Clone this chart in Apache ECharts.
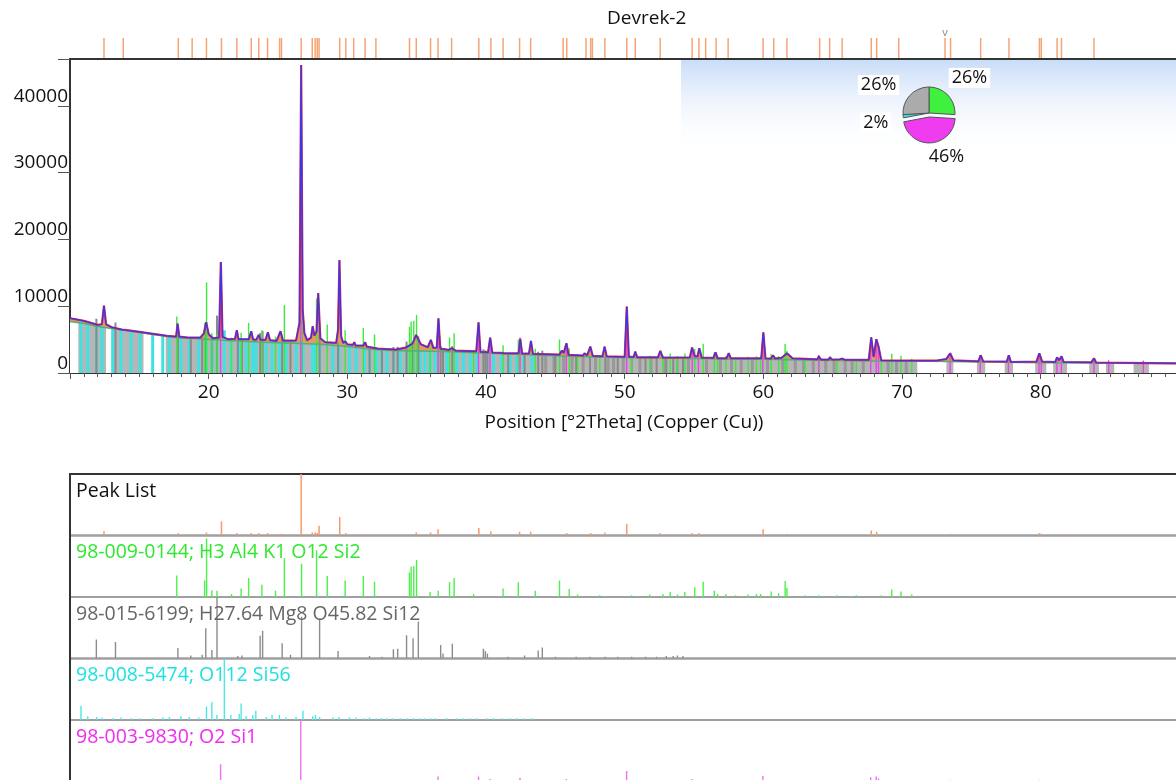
<!DOCTYPE html>
<html>
<head>
<meta charset="utf-8">
<title>Devrek-2</title>
<script src="https://cdn.jsdelivr.net/npm/echarts@6/dist/echarts.min.js"></script>
<style>
  html, body { margin: 0; padding: 0; background: #fff; }
  #chart { width: 1176px; height: 780px; }
</style>
</head>
<body>
<div id="chart"></div>
<script>
// x range in degrees 2Theta
var xMin = 10, xMax = 89.9;
var yTicks = [0, 10000, 20000, 30000, 40000];
var xTicks = [20, 30, 40, 50, 60, 70, 80];

// background (deg, counts)
var bgPoints = [[10,7700],[11,7400],[12,6950],[13,6650],[14,6350],[15,6050],[16,5750],[17,5450],[18,5250],
  [19,5150],[20,5000],[22,4800],[24,4600],[26,4450],[28,4300],[30,3950],[31.5,3600],[33,3350],[35,3300],
  [37,3200],[40,2950],[42,2850],[45,2600],[48,2400],[51,2250],[54,2200],[57,2100],[60,2050],[64,1900],
  [68,1800],[72,1750],[76,1650],[80,1550],[85,1480],[90,1400]];

var obsPoints = [[10,8200],[11,7800],[12,7200],[12.3,7300],[12.45,10100],[12.6,7300],[13,6850],[13.75,6500],
  [13.84,6750],[13.95,6450],[15,6150],[16,5850],[17,5550],[17.65,5450],[17.76,7400],[17.88,5450],[18.5,5300],
  [19.4,5300],[19.65,5900],[19.82,7600],[20,5800],[20.3,5200],[20.75,5300],[20.88,16600],[21,5400],[21.4,5050],
  [21.9,5100],[22.03,6400],[22.15,5050],[22.9,5050],[23.07,6250],[23.2,5000],[23.45,5000],[23.6,5700],
  [23.75,4950],[24.1,4950],[24.27,6100],[24.42,4900],[24.9,4800],[25.18,6250],[25.35,4850],[26.3,4850],
  [26.55,7500],[26.67,46100],[26.78,9500],[26.9,6000],[27.1,4900],[27.38,5300],[27.5,7000],[27.62,5600],
  [27.78,6200],[27.9,11950],[28.05,5200],[28.4,4600],[29.2,4500],[29.33,6500],[29.43,16900],[29.55,5500],
  [29.7,4500],[29.85,4750],[30,4300],[30.4,4200],[30.5,4600],[30.6,4100],[31.15,4100],[31.28,4600],
  [31.4,3950],[31.9,3750],[32.03,3900],[32.2,3650],[33.5,3500],[34.2,3800],[34.7,4400],[34.96,5700],
  [35.3,4300],[35.8,3850],[36.02,4950],[36.2,3750],[36.45,3800],[36.57,8200],[36.7,3650],[37.3,3450],
  [37.54,3700],[37.8,3350],[39.3,3250],[39.46,7600],[39.6,3150],[40.15,3100],[40.3,5300],[40.45,3050],
  [41.1,3000],[41.2,3200],[41.3,2950],[42.35,2950],[42.47,5100],[42.6,2900],[43.1,2900],[43.24,4800],
  [43.38,2850],[45.3,2750],[45.47,3350],[45.6,3000],[45.8,4450],[45.95,2700],[47,2600],[47.1,2950],
  [47.3,2650],[47.52,3950],[47.7,2550],[48.4,2500],[48.55,3950],[48.7,2500],[50,2400],[50.15,9950],
  [50.3,2400],[50.65,2400],[50.76,3200],[50.9,2350],[52.4,2350],[52.57,3300],[52.75,2300],[54.7,2350],
  [54.86,3800],[55.05,2500],[55.25,2500],[55.38,3700],[55.55,2300],[56.4,2250],[56.55,3100],[56.7,2200],
  [57.35,2200],[57.5,2950],[57.65,2200],[59.85,2200],[60,6100],[60.15,2200],[60.55,2150],[60.7,2650],
  [60.85,2150],[61.3,2250],[61.7,2950],[62.1,2200],[63.9,2050],[64,2500],[64.15,2000],[64.7,2000],
  [64.8,2350],[64.95,2000],[65.5,2050],[65.7,2150],[65.9,1950],[67.6,1950],[67.78,5350],[67.95,2400],
  [68.15,5050],[68.3,4000],[68.5,1900],[70,1850],[72.5,1850],[73.2,2100],[73.47,2950],[73.7,1900],
  [75.5,1750],[75.67,2650],[75.85,1750],[77.55,1700],[77.7,2650],[77.85,1650],[79.7,1700],[79.9,2950],
  [80.1,1700],[81.05,1650],[81.18,2350],[81.33,1900],[81.5,2500],[81.65,1650],[83.65,1600],[83.84,2200],
  [84,1550],[90,1450]];

// peak list (deg, relative height)
var peakPos = [12.45,13.84,17.81,18.81,19.84,20.92,22.03,23.07,23.61,24.25,25.12,25.25,26.67,27.47,27.68,27.83,
  27.96,29.45,29.89,30.46,31.28,32.06,34.48,34.97,36.0,36.54,37.52,39.48,40.35,41.23,42.42,43.22,45.56,45.82,
  47.21,47.55,47.67,48.57,50.15,50.76,52.56,54.86,55.35,55.84,56.59,57.46,59.98,60.75,61.7,64.06,64.78,65.68,
  67.78,68.17,69.76,73.1,73.5,75.67,77.71,79.91,80.04,81.18,81.5,83.84];
var peakRel = [0.07,0.02,0.04,0.02,0.05,0.23,0.04,0.04,0.04,0.04,0.02,0.03,1,0.05,0.05,0.04,
  0.16,0.30,0.04,0.02,0.02,0.02,0.02,0.05,0.05,0.10,0.02,0.12,0.07,0.02,0.06,0.06,0.02,0.04,
  0.02,0.04,0.02,0.05,0.19,0.02,0.04,0.04,0.04,0.01,0.01,0.02,0.10,0.01,0.03,0.02,0.01,0.01,
  0.08,0.06,0.01,0.01,0.03,0.02,0.01,0.04,0.03,0.02,0.02,0.02];

// 98-009-0144; H3 Al4 K1 O12 Si2
var greenPos = [17.7,19.71,19.85,20.23,20.6,21.65,22.34,22.88,23.84,24.82,25.46,26.7,27.78,28.55,29.84,31.15,
  31.96,34.48,34.6,34.79,34.99,35.97,36.55,37.37,37.7,39.1,41.23,42.33,43.55,45.3,46.0,46.6,48.2,50.5,51.8,
  52.75,53.28,53.8,54.34,55.05,55.66,56.46,56.7,57.3,58.0,58.9,59.5,59.8,60.56,61.1,61.57,61.7,63.0,64.0,
  65.3,66.7,68.5,69.26,69.92,70.7];
var greenRel = [0.35,0.27,0.95,0.11,0.10,0.05,0.14,0.31,0.20,0.10,0.63,0.54,0.76,0.34,0.27,0.34,
  0.25,0.40,0.49,0.50,0.60,0.08,0.10,0.24,0.31,0.05,0.14,0.24,0.10,0.27,0.13,0.04,0.03,0.03,0.04,
  0.05,0.08,0.04,0.08,0.16,0.25,0.10,0.05,0.05,0.03,0.04,0.05,0.05,0.09,0.06,0.26,0.15,0.03,0.03,
  0.03,0.03,0.03,0.12,0.09,0.04];

// 98-015-6199; H27.64 Mg8 O45.82 Si12
var grayPos = [11.9,13.28,17.78,18.71,19.53,19.79,20.23,20.6,22.1,22.4,23.71,23.89,25.3,25.9,26.7,28.0,29.33,
  31.6,32.5,33.32,33.63,34.27,34.74,35.12,36.73,36.9,37.57,39.81,39.95,40.1,41.6,42.78,43.76,44.06,45.0,46.5,
  47.5,48.6,49.5,50.5,51.5,52.3,53.0,53.5,53.8,54.2];
var grayRel = [0.31,0.27,0.17,0.05,0.06,0.49,0.14,1,0.04,0.05,0.37,0.45,0.25,0.06,0.68,0.63,0.12,
  0.04,0.03,0.15,0.16,0.38,0.33,0.60,0.22,0.08,0.24,0.16,0.12,0.08,0.03,0.05,0.13,0.18,0.03,0.03,
  0.03,0.03,0.03,0.03,0.03,0.03,0.04,0.04,0.05,0.04];

// 98-008-5474; O112 Si56
var cyanPos = [10.79,11.28,11.92,12.31,13.08,13.68,14.4,15.05,15.96,16.69,17.17,18.0,18.6,19.28,19.84,20.23,
  20.6,21.13,21.6,22.2,22.34,22.7,23.18,23.4,24.14,24.57,25.1,25.58,26.3,26.8,27.5,27.7,28.0,28.95,29.4,
  30.15,30.63,31.24,31.6,32.08,32.44,32.85,33.33,33.81,34.29,34.77,35.25,35.61,35.97,36.33,37.18,37.9,
  38.38,38.86,39.34,40.06,40.54,41.14,41.74,42.23,42.71,43.31];
var cyanRel = [0.23,0.06,0.05,0.04,0.03,0.04,0.03,0.03,0.03,0.04,0.05,0.06,0.05,0.04,0.22,0.29,
  0.08,1,0.08,0.10,0.27,0.06,0.08,0.15,0.05,0.08,0.08,0.04,0.05,0.15,0.06,0.08,0.05,0.04,0.05,
  0.04,0.04,0.03,0.04,0.03,0.03,0.03,0.03,0.03,0.03,0.03,0.03,0.03,0.03,0.03,0.03,0.03,
  0.03,0.03,0.03,0.03,0.03,0.03,0.03,0.03,0.03,0.03];

// 98-003-9830; O2 Si1
var magentaPos = [20.86,26.64,36.54,39.46,40.29,42.45,45.79,50.14,54.87,55.32,59.96,63.99,67.74,68.14,68.3,
  73.47,75.64,77.67,79.88,80.04,81.17,81.49,83.84,84.9,87.4];
var magentaRel = [0.28,1,0.08,0.08,0.04,0.06,0.04,0.17,0.04,0.02,0.09,0.02,0.07,0.08,0.05,
  0.03,0.025,0.025,0.03,0.02,0.015,0.02,0.012,0.01,0.01];

// regions filled grey below the background (deg from, deg to)
var bandRanges = [[10.6,12.6],[13.0,15.3],[16.9,71.1],[73.2,73.7],[75.4,76.0],[77.4,78.0],[79.6,80.4],
  [80.9,81.9],[83.5,84.2],[84.7,85.3],[86.7,87.8]];
// darker grey streaks inside the filled region
var streakPos = [44.3,44.9,45.6,46.2,47.0,47.9,48.8,49.2,49.9,51.1,51.9,52.9,54.6,55.9,56.9,57.7,58.4,
  59.2,60.3,61.4,62.3,62.9,63.6,64.5,65.1,65.9,66.4,67.2,69.0,69.6,70.3];

var pieNames = ['98-009-0144', '98-003-9830', '98-008-5474', '98-015-6199'];
var pieValues = [26, 46, 2, 26];
var pieColors = ['#3ff03f', '#f03cf0', '#33e3e3', '#ababab'];

function bgAt(x) {
  for (var i = 1; i < bgPoints.length; i++) {
    if (x <= bgPoints[i][0]) {
      var a = bgPoints[i - 1], b = bgPoints[i];
      return a[1] + (b[1] - a[1]) * (x - a[0]) / (b[0] - a[0]);
    }
  }
  return bgPoints[bgPoints.length - 1][1];
}

// vertical line series: data rows are [x, yTop, yBase]
function sticks(xi, yi, data, color, width, z) {
  return {
    type: 'custom', xAxisIndex: xi, yAxisIndex: yi, z: z, silent: true, clip: true,
    data: data,
    encode: { x: 0, y: 1 },
    renderItem: function (params, api) {
      var p0 = api.coord([api.value(0), api.value(2)]);
      var p1 = api.coord([api.value(0), api.value(1)]);
      return {
        type: 'line',
        shape: { x1: p0[0], y1: p0[1], x2: p1[0], y2: p1[1] },
        style: { stroke: color, lineWidth: width }
      };
    }
  };
}
function panelData(pos, rel) {
  return pos.map(function (p, i) { return [p, rel[i], 0]; });
}
function mainData(pos, rel, k) {
  return pos.map(function (p, i) { return [p, bgAt(p) + rel[i] * k, 0]; });
}

var font = 'Open Sans';
var panelTops = [474, 535.5, 597, 658.5, 720];
var grids = [
  { left: 70, right: -2, top: 38, height: 20, outerBoundsMode: 'none' },
  { left: 70, right: -2, top: 59, height: 314, show: true, borderColor: '#333', borderWidth: 2, outerBoundsMode: 'none' }
];
panelTops.forEach(function (t) {
  grids.push({ left: 70, right: -2, top: t, height: 61.5, show: true, borderColor: '#a0a0a0', borderWidth: 2,
    outerBoundsMode: 'none' });
});

var xAxes = [], yAxes = [];
for (var g = 0; g < grids.length; g++) {
  var isMain = g === 1;
  xAxes.push({
    type: 'value', gridIndex: g, min: xMin, max: xMax, interval: 10,
    position: g === 2 ? 'top' : 'bottom',
    show: isMain || g === 2,
    name: isMain ? 'Position [°2Theta] (Copper (Cu))' : '',
    nameLocation: 'middle', nameGap: 40,
    nameTextStyle: { fontSize: 19, color: '#111', fontFamily: font },
    axisLine: { show: true, onZero: false, lineStyle: { color: '#333', width: 2 } },
    axisTick: { show: isMain, length: 6, lineStyle: { color: '#555' } },
    minorTick: { show: isMain, splitNumber: 10, length: 4, lineStyle: { color: '#555' } },
    axisLabel: { show: isMain, fontSize: 19, color: '#111', fontFamily: font, margin: 10,
      formatter: function (v) { return xTicks.indexOf(v) >= 0 ? String(v) : ''; } },
    splitLine: { show: false }
  });
  yAxes.push(isMain ? {
    type: 'value', gridIndex: g, min: 0, max: 47000, interval: 10000,
    axisLine: { show: true, lineStyle: { color: '#333', width: 2 } },
    axisTick: { show: true, length: 12, lineStyle: { color: '#555' } },
    axisLabel: { fontSize: 19, color: '#111', fontFamily: font, margin: 2, verticalAlign: 'bottom',
      formatter: function (v) { return yTicks.indexOf(v) >= 0 ? String(v) : ''; } },
    splitLine: { show: false }
  } : {
    type: 'value', gridIndex: g, min: 0, max: 1,
    show: g >= 2,
    axisLine: { show: g >= 2, lineStyle: { color: '#333', width: 2 } },
    axisTick: { show: false }, axisLabel: { show: false }, splitLine: { show: false }
  });
}

var panelLabels = [
  ['Peak List', '#111'],
  ['98-009-0144; H3 Al4 K1 O12 Si2', '#2fe82f'],
  ['98-015-6199; H27.64 Mg8 O45.82 Si12', '#666'],
  ['98-008-5474; O112 Si56', '#1fe0e0'],
  ['98-003-9830; O2 Si1', '#f02cf0']
];
var titles = [{ text: 'Devrek-2', left: 602, top: 4,
  textStyle: { fontSize: 19, fontWeight: 'normal', color: '#111', fontFamily: font } }];
panelLabels.forEach(function (l, i) {
  titles.push({ text: l[0], left: 71, top: panelTops[i] + 2,
    textStyle: { fontSize: 19.5, fontWeight: 'normal', color: l[1], fontFamily: font } });
});

// nudges for the pie labels (px)
var pieLabelShift = [[-19, -9], [-17, 2], [11, 5], [9, -2]];

var series = [
  // peak list marks above the plot
  sticks(0, 0, peakPos.map(function (p) { return [p, 1, 0]; }), '#f7a474', 1.5, 3),
  { type: 'scatter', xAxisIndex: 0, yAxisIndex: 0, symbolSize: 0, silent: true,
    data: [[peakPos[55], 1]],
    label: { show: true, formatter: 'v', position: 'top', distance: 0, color: '#666', fontSize: 11, fontFamily: font } },

  // main plot
  { type: 'line', xAxisIndex: 1, yAxisIndex: 1, data: obsPoints, symbol: 'none', silent: true, z: 1,
    lineStyle: { width: 0 }, areaStyle: { color: '#e39a5f', opacity: 1 } },
  { type: 'line', xAxisIndex: 1, yAxisIndex: 1, data: bgPoints, symbol: 'none', silent: true, z: 1,
    lineStyle: { width: 0 }, areaStyle: { color: '#fff', opacity: 1 } },
  { type: 'custom', xAxisIndex: 1, yAxisIndex: 1, z: 2, silent: true, clip: true,
    data: bandRanges, encode: { x: [0, 1] },
    renderItem: function (params, api) {
      var x0 = api.value(0), x1 = api.value(1), pts = [api.coord([x0, 0]), api.coord([x1, 0])];
      var n = Math.max(2, Math.ceil((x1 - x0) / 1));
      for (var i = n; i >= 0; i--) {
        var x = x0 + (x1 - x0) * i / n;
        pts.push(api.coord([x, bgAt(x)]));
      }
      return { type: 'polygon', shape: { points: pts }, style: { fill: '#b6b6b6' } };
    } },
  sticks(1, 1, streakPos.map(function (p) { return [p, bgAt(p), 0]; }), '#999', 3, 3),
  sticks(1, 1, mainData(cyanPos, cyanRel, 1500), '#3fe2e2', 3, 3),
  sticks(1, 1, mainData(grayPos, grayRel, 3650), '#8a8a8a', 2, 3),
  sticks(1, 1, mainData(greenPos, greenRel, 9000), '#3ee83e', 1.4, 3),
  sticks(1, 1, mainData(magentaPos, magentaRel, 41500), '#f040f0', 1.4, 3),
  { type: 'line', xAxisIndex: 1, yAxisIndex: 1, data: bgPoints, symbol: 'none', silent: true, z: 5,
    lineStyle: { color: '#4fb07a', width: 1.5 } },
  { type: 'line', xAxisIndex: 1, yAxisIndex: 1, data: obsPoints, symbol: 'none', silent: true, z: 6,
    lineStyle: { color: '#ee3030', width: 2.2 } },
  { type: 'line', xAxisIndex: 1, yAxisIndex: 1, data: obsPoints, symbol: 'none', silent: true, z: 7,
    lineStyle: { color: '#3535f5', width: 1.3 } },

  // stick panels
  sticks(2, 2, panelData(peakPos, peakRel), '#f39c6b', 1.5, 3),
  sticks(3, 3, panelData(greenPos, greenRel), '#4cf04c', 1.4, 3),
  sticks(4, 4, panelData(grayPos, grayRel), '#8c8c8c', 1.4, 3),
  sticks(5, 5, panelData(cyanPos, cyanRel), '#4ce8e8', 1.4, 3),
  sticks(6, 6, panelData(magentaPos, magentaRel), '#f070f0', 1.4, 3),

  // phase fractions
  { type: 'pie', center: [929, 113], radius: 26, startAngle: 90, clockwise: true, z: 8,
    silent: true, selectedMode: 'single', selectedOffset: 4,
    itemStyle: { borderColor: '#555', borderWidth: 1 },
    label: { show: true, position: 'outside', formatter: '{c}%', fontSize: 18, color: '#111',
      fontFamily: font, backgroundColor: '#fff', padding: [1, 3] },
    labelLine: { show: false, length: 12, length2: 6 },
    labelLayout: function (params) {
      var s = pieLabelShift[params.dataIndex];
      return { dx: s[0], dy: s[1] };
    },
    data: pieValues.map(function (v, i) {
      return { name: pieNames[i], value: v, selected: i === 1, itemStyle: { color: pieColors[i] } };
    }) }
];

var chart = echarts.init(document.getElementById('chart'));
chart.setOption({
  animation: false,
  backgroundColor: '#fff',
  textStyle: { fontFamily: font },
  title: titles,
  grid: grids,
  xAxis: xAxes,
  yAxis: yAxes,
  graphic: [{
    type: 'rect', z: 1, silent: true,
    shape: { x: 681, y: 60, width: 500, height: 96 },
    style: { fill: new echarts.graphic.LinearGradient(0, 0, 0, 1, [
      { offset: 0, color: '#c9ddf8' }, { offset: 1, color: 'rgba(255,255,255,0)' }]) }
  }],
  series: series
});
</script>
</body>
</html>
